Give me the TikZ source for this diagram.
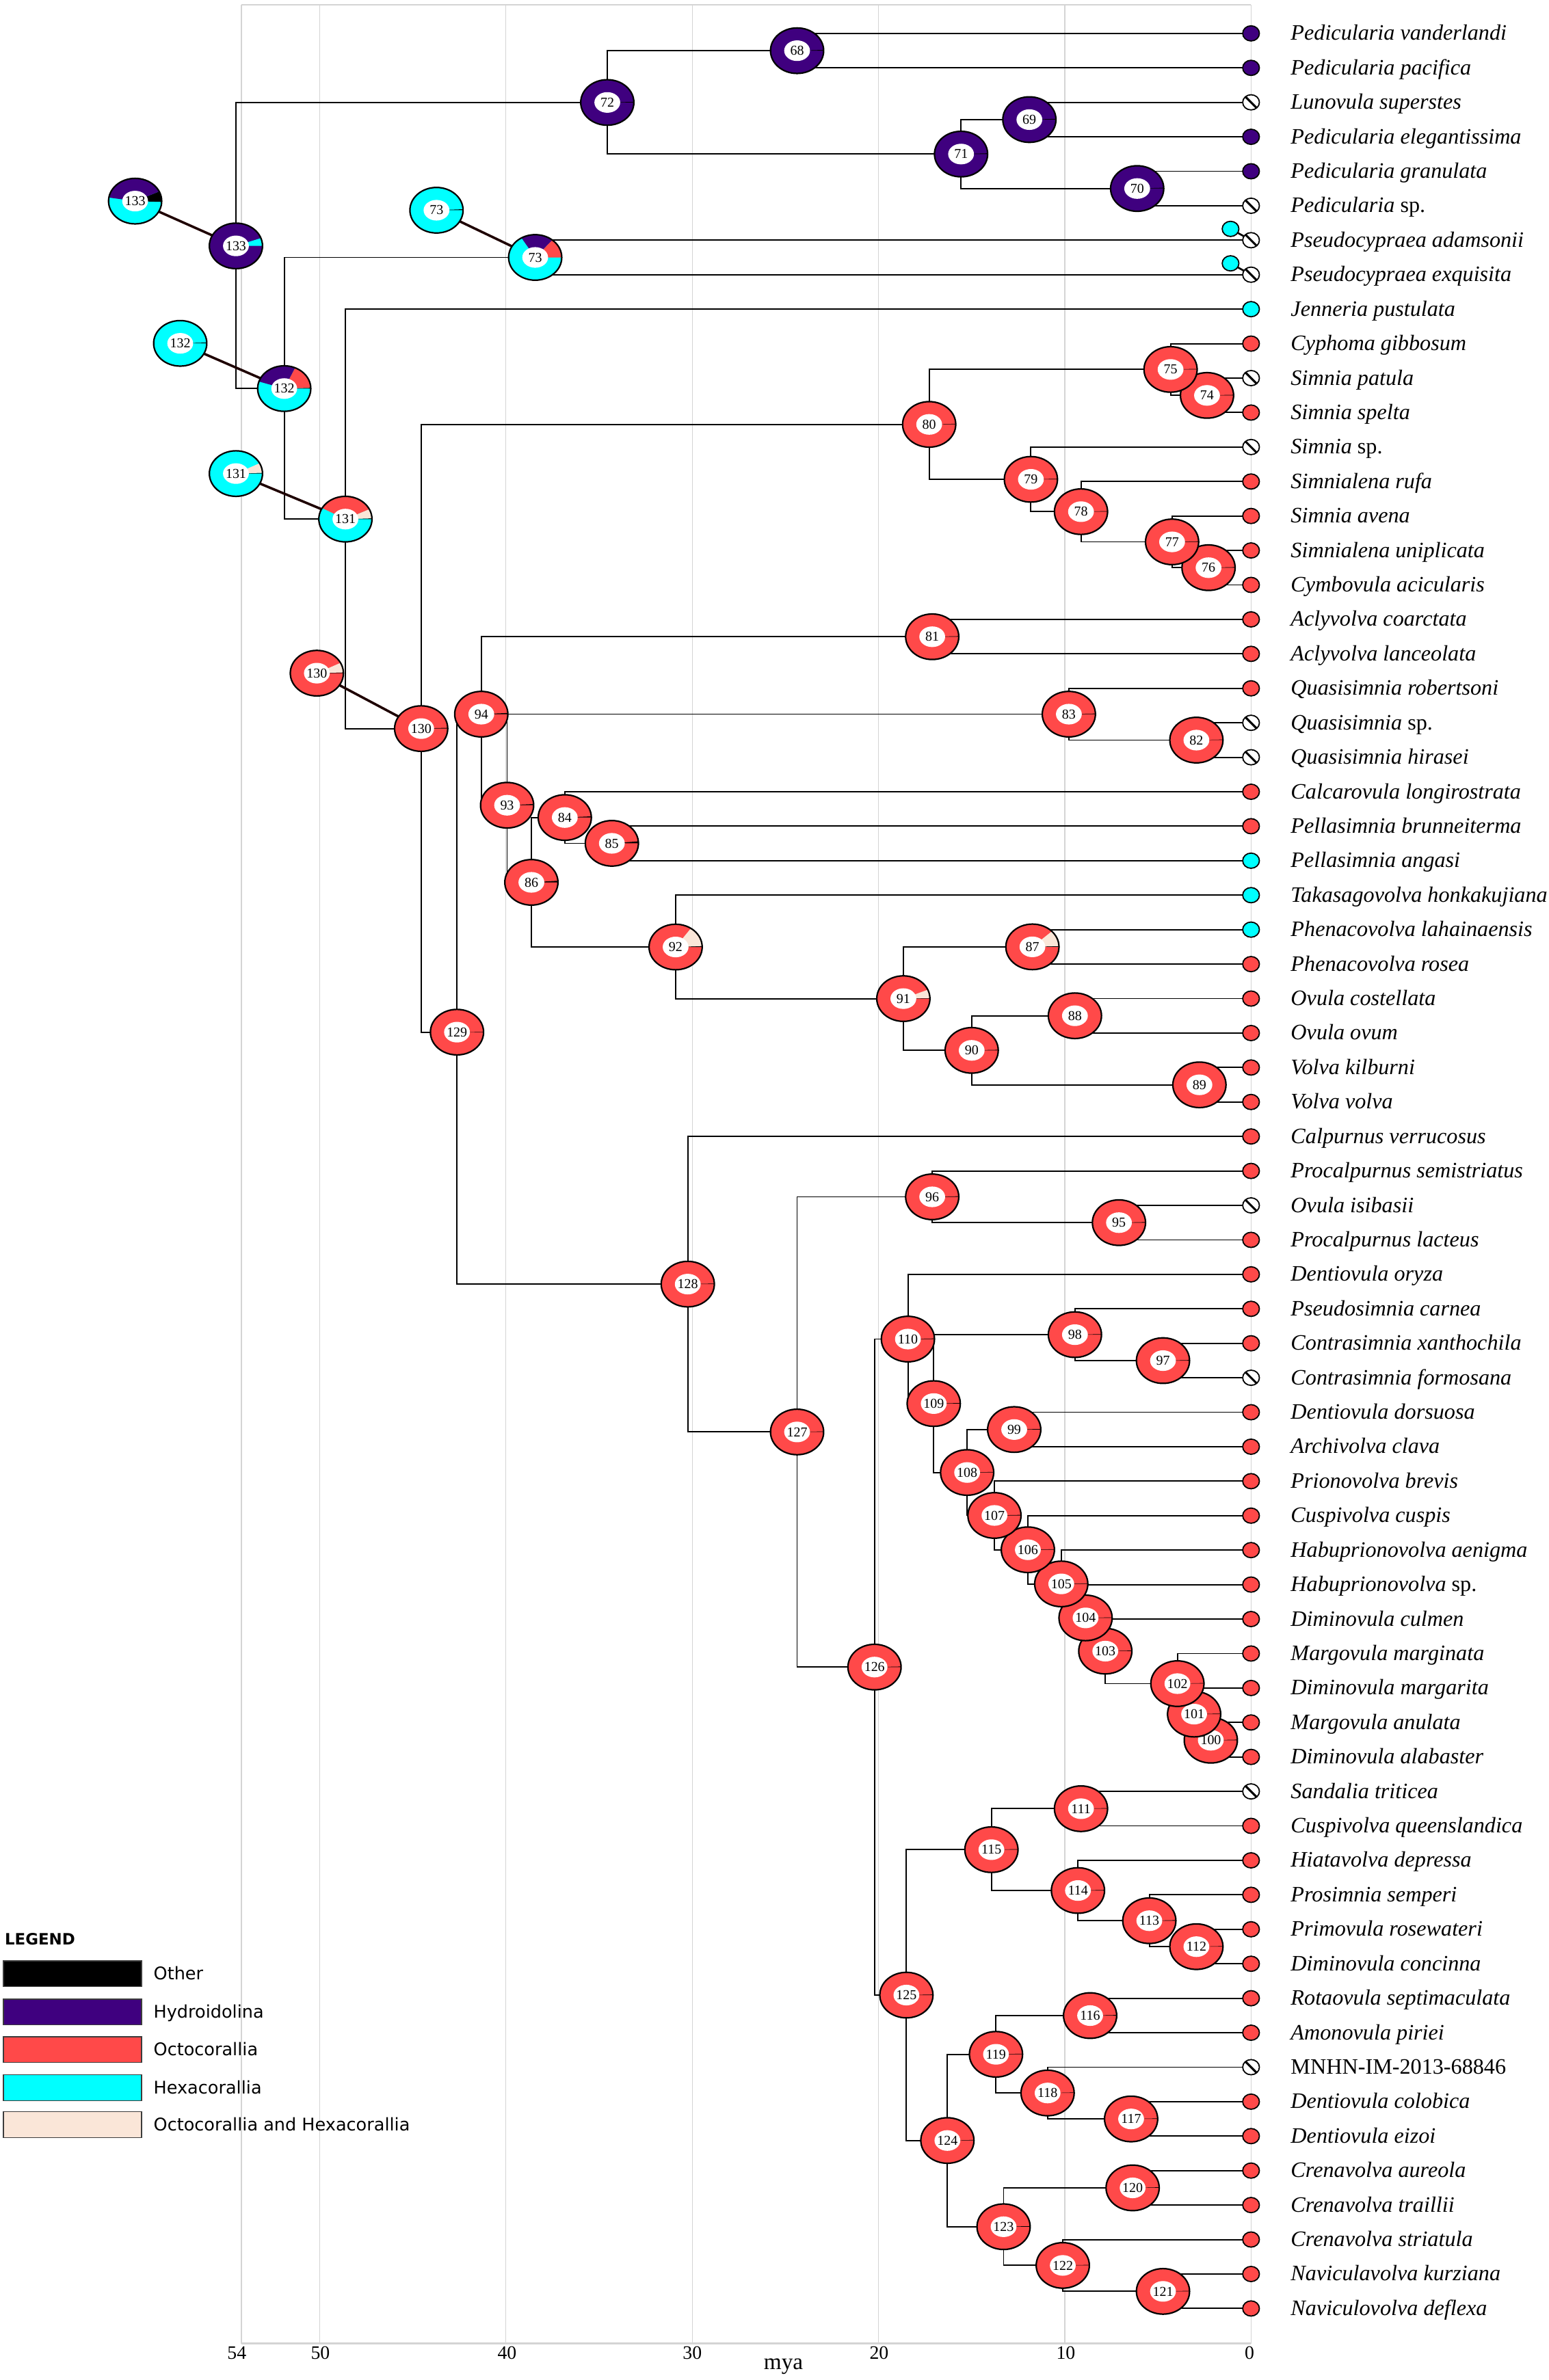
\documentclass[tikz,border=0pt]{standalone}
\usepackage{fontspec}
\setmainfont{Liberation Serif}
\newfontfamily\legfont{DejaVu Sans}
\definecolor{hydro}{HTML}{3F007F}
\definecolor{octo}{HTML}{FF4949}
\definecolor{hexa}{HTML}{00FFFF}
\definecolor{both}{HTML}{FAE6D8}
\definecolor{gridgray}{HTML}{D4D4D4}
\definecolor{linkc}{HTML}{1E0000}
\tikzset{
  branch/.style={line width=0.85pt, draw=black},
  gridl/.style={draw=gridgray, line width=0.6pt},
  link/.style={line width=1.6pt, draw=linkc},
  tipc/.style={line width=0.8pt, draw=black},
  spname/.style={font=\fontsize{14.5}{16}\selectfont\itshape, anchor=base west, inner sep=0pt},
  num/.style={font=\fontsize{9}{10}\selectfont, inner sep=0pt},
  ax/.style={font=\fontsize{12.5}{14}\selectfont, inner sep=0pt},
  leg/.style={font=\legfont\fontsize{11.5}{13}\selectfont, anchor=base west, inner sep=0pt},
  legbox/.style={draw={rgb,255:red,60;green,60;blue,60}, line width=0.6pt, minimum width=91pt, minimum height=17pt, anchor=north west, inner sep=0pt},
}
\newcommand\ed[2]{\foreach \c in {#2} {\draw[branch] (#1) |- (\c);}}
\newcommand\pie[4]{%
  \fill[#3] (#1) ellipse[x radius=17.5pt,y radius=15pt];
  \foreach \a/\b/\c in {#4} {\fill[\c] (#1) -- ++(\a:17.5pt and 15pt) arc[start angle=\a,end angle=\b,x radius=17.5pt,y radius=15pt] -- cycle;}
  \fill[white] (#1) ellipse[x radius=8.5pt,y radius=6.8pt];
  \draw[line width=1pt] (#1) ellipse[x radius=17.5pt,y radius=15pt];
  \node[num] (p#1) at (#1) {#2};
}
\newcommand\tR[1]{\path[tipc,fill=octo] (t#1) ellipse[x radius=5.5pt,y radius=5pt];}
\newcommand\tH[1]{\path[tipc,fill=hydro] (t#1) ellipse[x radius=5.5pt,y radius=5pt];}
\newcommand\tC[1]{\path[tipc,fill=hexa] (t#1) ellipse[x radius=5.5pt,y radius=5pt];}
\newcommand\tX[1]{\path[tipc,fill=white] (t#1) ellipse[x radius=5.5pt,y radius=5pt];
  \draw[line width=1.4pt] (t#1) +(135:5.3pt) -- +(-45:5.3pt);}
\newcommand\lab[2]{\path (t#1) ++(26,4.5) node[spname] (l#1) {#2};}
\begin{document}
\begin{tikzpicture}[x=1pt,y=-1pt]
\useasboundingbox (0,0) rectangle (1020,1568);
% grid and frame
\foreach \gx in {159,210.5,333.2,456,578.7,701.4,824} {\draw[gridl] (\gx,3) -- (\gx,1544);}
\draw[draw=gridgray, line width=1pt] (159,3) -- (824,3);
\draw[draw=gridgray, line width=1.4pt] (159,1544) -- (824,1544);
\node[ax] (a54) at (156,1550) {54};
\node[ax] (a50) at (211,1550) {50};
\node[ax] (a40) at (334,1550) {40};
\node[ax] (a30) at (456,1550) {30};
\node[ax] (a20) at (579,1550) {20};
\node[ax] (a10) at (702,1550) {10};
\node[ax] (a0) at (823,1550) {0};
\node[ax, font=\fontsize{15}{16}\selectfont] (amya) at (516,1559) {mya};
% tips
\foreach \i in {1,...,67} {\coordinate (t\i) at (824,{22+(\i-1)*22.71});}
\coordinate (c7) at (810.5,150.8);
\coordinate (c8) at (810.5,173.5);
% internal nodes
\coordinate (n68) at (525,33.4);
\coordinate (n69) at (678,78.8);
\coordinate (n70) at (749,124.2);
\coordinate (n71) at (633,101.5);
\coordinate (n72) at (400,67.5);
\coordinate (n73) at (352.5,169.6);
\coordinate (n74) at (795,260.5);
\coordinate (n75) at (771,243.4);
\coordinate (n76) at (796,374);
\coordinate (n77) at (772,357);
\coordinate (n78) at (712,337.1);
\coordinate (n79) at (679,315.8);
\coordinate (n80) at (612,279.6);
\coordinate (n81) at (614,419.5);
\coordinate (n82) at (788,487.6);
\coordinate (n83) at (704,470.5);
\coordinate (n84) at (372,538.6);
\coordinate (n85) at (403,555.6);
\coordinate (n86) at (350,581.3);
\coordinate (n87) at (680,623.8);
\coordinate (n88) at (708,669.2);
\coordinate (n89) at (790,714.7);
\coordinate (n90) at (640,692);
\coordinate (n91) at (595,657.9);
\coordinate (n92) at (445,623.9);
\coordinate (n93) at (334,530.5);
\coordinate (n94) at (317,470.5);
\coordinate (n95) at (737,805.5);
\coordinate (n96) at (614,788.5);
\coordinate (n97) at (766,896.4);
\coordinate (n98) at (708,879.3);
\coordinate (n99) at (668,941.8);
\coordinate (n100) at (797.5,1146.5);
\coordinate (n101) at (786.5,1129.3);
\coordinate (n102) at (775.5,1109.2);
\coordinate (n103) at (728,1087.8);
\coordinate (n104) at (715,1065.9);
\coordinate (n105) at (699,1043.5);
\coordinate (n106) at (677,1021);
\coordinate (n107) at (655,998.4);
\coordinate (n108) at (637,970.1);
\coordinate (n109) at (615,924.7);
\coordinate (n110) at (598,882.2);
\coordinate (n111) at (712,1191.6);
\coordinate (n112) at (788,1282.5);
\coordinate (n113) at (757,1265.4);
\coordinate (n114) at (710,1245.5);
\coordinate (n115) at (653,1218.6);
\coordinate (n116) at (718,1327.9);
\coordinate (n117) at (745,1396);
\coordinate (n118) at (690,1378.9);
\coordinate (n119) at (656,1353.4);
\coordinate (n120) at (746,1441.4);
\coordinate (n121) at (766,1509.6);
\coordinate (n122) at (700,1492.5);
\coordinate (n123) at (661,1467);
\coordinate (n124) at (624,1410.2);
\coordinate (n125) at (597,1314.4);
\coordinate (n126) at (576,1098.3);
\coordinate (n127) at (525,943.4);
\coordinate (n128) at (453,846);
\coordinate (n129) at (301,680);
\coordinate (n130) at (277.4,480);
\coordinate (n131) at (227.5,342);
\coordinate (n132) at (187.2,256);
\coordinate (n133) at (155.4,162);
\coordinate (s133) at (89,132.5);
\coordinate (s73) at (287.5,138.5);
\coordinate (s132) at (118.7,226.2);
\coordinate (s131) at (155.4,312);
\coordinate (s130) at (208.7,443.5);
% branches
\ed{n68}{t1,t2}
\ed{n69}{t3,t4}
\ed{n70}{t5,t6}
\ed{n71}{n69,n70}
\ed{n72}{n68,n71}
\ed{n73}{t7,t8}
\ed{n74}{t11,t12}
\ed{n75}{t10,n74}
\ed{n76}{t16,t17}
\ed{n77}{t15,n76}
\ed{n78}{t14,n77}
\ed{n79}{t13,n78}
\ed{n80}{n75,n79}
\ed{n81}{t18,t19}
\ed{n82}{t21,t22}
\ed{n83}{t20,n82}
\ed{n84}{t23,n85}
\ed{n85}{t24,t25}
\ed{n86}{n84,n92}
\ed{n87}{t27,t28}
\ed{n88}{t29,t30}
\ed{n89}{t31,t32}
\ed{n90}{n88,n89}
\ed{n91}{n87,n90}
\ed{n92}{t26,n91}
\ed{n93}{n83,n86}
\ed{n94}{n81,n93}
\ed{n95}{t35,t36}
\ed{n96}{t34,n95}
\ed{n97}{t39,t40}
\ed{n98}{t38,n97}
\ed{n99}{t41,t42}
\ed{n100}{t50,t51}
\ed{n101}{t49,n100}
\ed{n102}{t48,n101}
\ed{n103}{t47,n102}
\ed{n104}{t46,n103}
\ed{n105}{t45,n104}
\ed{n106}{t44,n105}
\ed{n107}{t43,n106}
\ed{n108}{n99,n107}
\ed{n109}{n98,n108}
\ed{n110}{t37,n109}
\ed{n111}{t52,t53}
\ed{n112}{t56,t57}
\ed{n113}{t55,n112}
\ed{n114}{t54,n113}
\ed{n115}{n111,n114}
\ed{n116}{t58,t59}
\ed{n117}{t61,t62}
\ed{n118}{t60,n117}
\ed{n119}{n116,n118}
\ed{n120}{t63,t64}
\ed{n121}{t66,t67}
\ed{n122}{t65,n121}
\ed{n123}{n120,n122}
\ed{n124}{n119,n123}
\ed{n125}{n115,n124}
\ed{n126}{n110,n125}
\ed{n127}{n96,n126}
\ed{n128}{t33,n127}
\ed{n129}{n94,n128}
\ed{n130}{n80,n129}
\ed{n131}{t9,n130}
\ed{n132}{n73,n131}
\ed{n133}{n72,n132}
% links to alternative pies
\draw[link] (s133) -- (n133);
\draw[link] (s73) -- (n73);
\draw[link] (s132) -- (n132);
\draw[link] (s131) -- (n131);
\draw[link] (s130) -- (n130);
\draw[line width=1.2pt] (c7) -- (t7);
\draw[line width=1.2pt] (c8) -- (t8);
% tip states
\tH{1}\tH{2}\tX{3}\tH{4}\tH{5}\tX{6}\tX{7}\tX{8}\tC{9}\tR{10}
\tX{11}\tR{12}\tX{13}\tR{14}\tR{15}\tR{16}\tR{17}\tR{18}\tR{19}\tR{20}
\tX{21}\tX{22}\tR{23}\tR{24}\tC{25}\tC{26}\tC{27}\tR{28}\tR{29}\tR{30}
\tR{31}\tR{32}\tR{33}\tR{34}\tX{35}\tR{36}\tR{37}\tR{38}\tR{39}\tX{40}
\tR{41}\tR{42}\tR{43}\tR{44}\tR{45}\tR{46}\tR{47}\tR{48}\tR{49}\tR{50}
\tR{51}\tX{52}\tR{53}\tR{54}\tR{55}\tR{56}\tR{57}\tR{58}\tR{59}\tX{60}
\tR{61}\tR{62}\tR{63}\tR{64}\tR{65}\tR{66}\tR{67}
\path[tipc,fill=hexa] (c7) ellipse[x radius=5.5pt,y radius=5pt];
\path[tipc,fill=hexa] (c8) ellipse[x radius=5.5pt,y radius=5pt];
% ancestral pies
\pie{n68}{68}{hydro}{0/2/black}
\pie{n69}{69}{hydro}{0/2/black}
\pie{n70}{70}{hydro}{0/2/black}
\pie{n71}{71}{hydro}{0/2/black}
\pie{n72}{72}{hydro}{0/1.5/black}
\pie{s73}{73}{hexa}{0/2.5/black}
\pie{n73}{73}{hexa}{0/50/octo,50/121/hydro}
\foreach \k in {74,75,76,77,78,79,80,81,82,83} {\pie{n\k}{\k}{octo}{0/1.5/black}}
\pie{n84}{84}{octo}{0/3/black}
\pie{n85}{85}{octo}{0/5/black}
\pie{n86}{86}{octo}{0/4/black}
\pie{n87}{87}{octo}{0/2/black,2/43/both}
\pie{n88}{88}{octo}{0/0/octo}
\pie{n89}{89}{octo}{0/0/octo}
\pie{n90}{90}{octo}{0/1.5/black}
\pie{n91}{91}{octo}{0/1.5/black,1.5/23/both}
\pie{n92}{92}{octo}{0/2.5/black,2.5/55/both}
\pie{n93}{93}{octo}{0/3/black}
\pie{n94}{94}{octo}{0/3/black}
\foreach \k in {95,96,97,98,99,100,101,102,103,104,105,106,107,108,109,110,111,112,113,114,115,116,117,118,119,120,121,122,123,124,125,126,127,128} {\pie{n\k}{\k}{octo}{0/1.5/black}}
\pie{n129}{129}{octo}{0/1/black}
\pie{s130}{130}{octo}{0/2/black,2/27/both}
\pie{n130}{130}{octo}{0/2/black}
\pie{s131}{131}{hexa}{0/2/black,2/27/both}
\pie{n131}{131}{hexa}{0/2/black,2/26/both,26/151/octo}
\pie{s132}{132}{hexa}{0/2/black}
\pie{n132}{132}{hexa}{0/2/black,2/66/octo,66/162/hydro}
\pie{s133}{133}{hexa}{-2/25/black,25/171/hydro}
\pie{n133}{133}{hydro}{0/20/hexa}
% species names
\lab{1}{Pedicularia vanderlandi}
\lab{2}{Pedicularia pacifica}
\lab{3}{Lunovula superstes}
\lab{4}{Pedicularia elegantissima}
\lab{5}{Pedicularia granulata}
\lab{6}{Pedicularia {\upshape sp.}}
\lab{7}{Pseudocypraea adamsonii}
\lab{8}{Pseudocypraea exquisita}
\lab{9}{Jenneria pustulata}
\lab{10}{Cyphoma gibbosum}
\lab{11}{Simnia patula}
\lab{12}{Simnia spelta}
\lab{13}{Simnia {\upshape sp.}}
\lab{14}{Simnialena rufa}
\lab{15}{Simnia avena}
\lab{16}{Simnialena uniplicata}
\lab{17}{Cymbovula acicularis}
\lab{18}{Aclyvolva coarctata}
\lab{19}{Aclyvolva lanceolata}
\lab{20}{Quasisimnia robertsoni}
\lab{21}{Quasisimnia {\upshape sp.}}
\lab{22}{Quasisimnia hirasei}
\lab{23}{Calcarovula longirostrata}
\lab{24}{Pellasimnia brunneiterma}
\lab{25}{Pellasimnia angasi}
\lab{26}{Takasagovolva honkakujiana}
\lab{27}{Phenacovolva lahainaensis}
\lab{28}{Phenacovolva rosea}
\lab{29}{Ovula costellata}
\lab{30}{Ovula ovum}
\lab{31}{Volva kilburni}
\lab{32}{Volva volva}
\lab{33}{Calpurnus verrucosus}
\lab{34}{Procalpurnus semistriatus}
\lab{35}{Ovula isibasii}
\lab{36}{Procalpurnus lacteus}
\lab{37}{Dentiovula oryza}
\lab{38}{Pseudosimnia carnea}
\lab{39}{Contrasimnia xanthochila}
\lab{40}{Contrasimnia formosana}
\lab{41}{Dentiovula dorsuosa}
\lab{42}{Archivolva clava}
\lab{43}{Prionovolva brevis}
\lab{44}{Cuspivolva cuspis}
\lab{45}{Habuprionovolva aenigma}
\lab{46}{Habuprionovolva {\upshape sp.}}
\lab{47}{Diminovula culmen}
\lab{48}{Margovula marginata}
\lab{49}{Diminovula margarita}
\lab{50}{Margovula anulata}
\lab{51}{Diminovula alabaster}
\lab{52}{Sandalia triticea}
\lab{53}{Cuspivolva queenslandica}
\lab{54}{Hiatavolva depressa}
\lab{55}{Prosimnia semperi}
\lab{56}{Primovula rosewateri}
\lab{57}{Diminovula concinna}
\lab{58}{Rotaovula septimaculata}
\lab{59}{Amonovula piriei}
\lab{60}{{\upshape MNHN-IM-2013-68846}}
\lab{61}{Dentiovula colobica}
\lab{62}{Dentiovula eizoi}
\lab{63}{Crenavolva aureola}
\lab{64}{Crenavolva traillii}
\lab{65}{Crenavolva striatula}
\lab{66}{Naviculavolva kurziana}
\lab{67}{Naviculovolva deflexa}
% legend
\node[anchor=base west, inner sep=0pt, font=\legfont\bfseries\fontsize{10.3}{12}\selectfont] (leghead) at (3,1281.5) {LEGEND};
\node[legbox, fill=black] (lb1) at (2,1291.6) {};
\node[legbox, fill=hydro] (lb2) at (2,1316.8) {};
\node[legbox, fill=octo] (lb3) at (2,1341.6) {};
\node[legbox, fill=hexa] (lb4) at (2,1366.7) {};
\node[legbox, fill=both] (lb5) at (2,1391) {};
\node[leg] (lt1) at (101,1304.3) {Other};
\node[leg] (lt2) at (101,1329.5) {Hydroidolina};
\node[leg] (lt3) at (101,1354.3) {Octocorallia};
\node[leg] (lt4) at (101,1379.4) {Hexacorallia};
\node[leg] (lt5) at (101,1403.7) {Octocorallia and Hexacorallia};
\end{tikzpicture}
\end{document}
